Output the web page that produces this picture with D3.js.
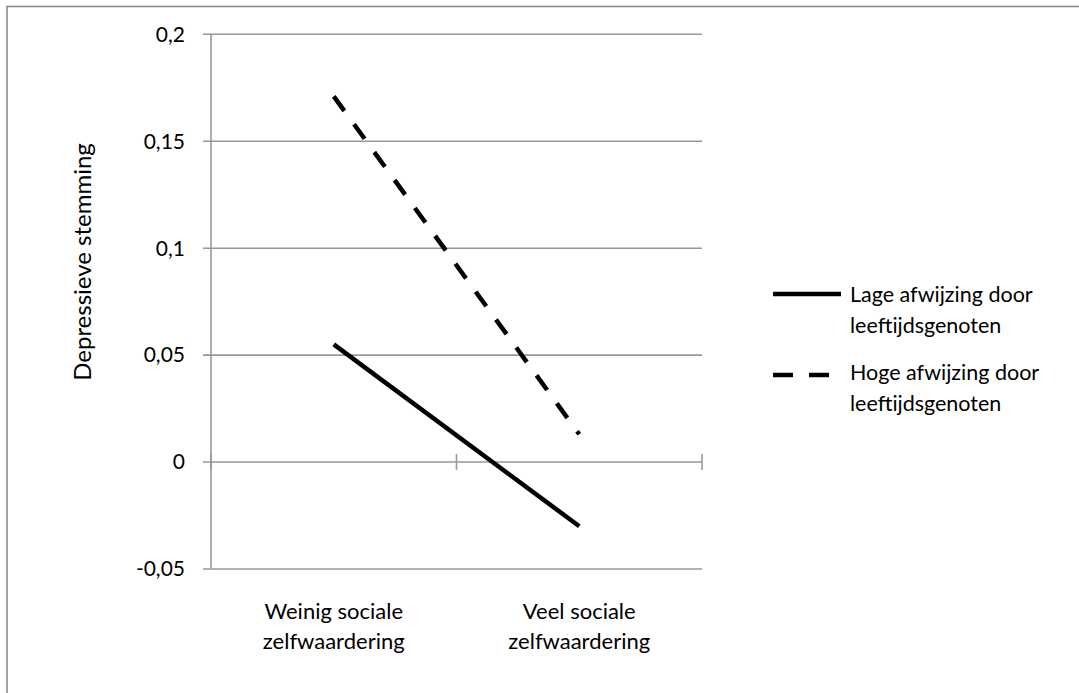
<!DOCTYPE html>
<html>
<head>
<meta charset="utf-8">
<script src="https://d3js.org/d3.v7.min.js"></script>
<style>
body{margin:0;background:#fff;}
text{font-family:Lato,"Open Sans",sans-serif;fill:#000;}
</style>
</head>
<body>
<svg id="chart"></svg>
<script>

// data
var categories = ["Weinig sociale\nzelfwaardering","Veel sociale\nzelfwaardering"]
var lageAfwijzing = [0.055,-0.030]
var hogeAfwijzing = [0.171,0.013]
var seriesNames = ["Lage afwijzing door\nleeftijdsgenoten","Hoge afwijzing door\nleeftijdsgenoten"]
var yTicks = [-0.05,0,0.05,0.1,0.15,0.2]
var yTickLabels = ["-0,05","0","0,05","0,1","0,15","0,2"]
var yTitle = "Depressieve stemming"

var screen = {width:1079,height:693}
var margins = {left:211,right:377,top:34.3,bottom:124}

var initGraph = function()
{
    var svg = d3.select("#chart")
        .attr("width",screen.width)
        .attr("height",screen.height)

    // outer frame, runs off the right and bottom edge
    svg.append("rect")
        .attr("x",7).attr("y",6.5)
        .attr("width",1100).attr("height",720)
        .attr("fill","none")
        .attr("stroke","#8a8a8a")
        .attr("stroke-width",1.6)

    var xScale = d3.scaleBand()
        .domain(categories)
        .range([margins.left,screen.width-margins.right])

    var yScale = d3.scaleLinear()
        .domain([-0.05,0.2])
        .range([screen.height-margins.bottom,margins.top])

    drawAxis(svg,xScale,yScale)
    drawPlot(svg,xScale,yScale)
    drawLegend(svg)
}

var drawAxis = function(svg,xScale,yScale)
{
    var x0 = xScale.range()[0], x1 = xScale.range()[1]

    // gridlines + outside ticks
    svg.append("g")
        .attr("class","grid")
        .selectAll("line")
        .data(yTicks)
        .enter()
        .append("line")
        .attr("x1",x0-8)
        .attr("x2",x1)
        .attr("y1",function(d){return yScale(d)})
        .attr("y2",function(d){return yScale(d)})
        .attr("stroke","#989898")
        .attr("stroke-width",1.6)

    // y axis line
    svg.append("line")
        .attr("x1",x0).attr("x2",x0)
        .attr("y1",yScale(-0.05)).attr("y2",yScale(0.2))
        .attr("stroke","#989898")
        .attr("stroke-width",1.6)

    // cross ticks on the x axis (at y = 0)
    var bounds = [x0,x0+xScale.bandwidth(),x1]
    svg.append("g")
        .selectAll("line")
        .data(bounds)
        .enter()
        .append("line")
        .attr("x1",function(d){return d})
        .attr("x2",function(d){return d})
        .attr("y1",yScale(0)-8)
        .attr("y2",yScale(0)+8)
        .attr("stroke","#989898")
        .attr("stroke-width",1.6)

    // y tick labels
    svg.append("g")
        .selectAll("text")
        .data(yTicks)
        .enter()
        .append("text")
        .attr("x",x0-26)
        .attr("y",function(d){return yScale(d)})
        .attr("dy","0.35em")
        .attr("text-anchor","end")
        .style("font-size","21px")
        .text(function(d,i){return yTickLabels[i]})

    // category labels
    var cat = svg.append("g")
        .selectAll("text")
        .data(categories)
        .enter()
        .append("text")
        .attr("text-anchor","middle")
        .style("font-size","22px")
    cat.selectAll("tspan")
        .data(function(d){return d.split("\n").map(function(s){return {s:s,c:d}})})
        .enter()
        .append("tspan")
        .attr("x",function(d){return xScale(d.c)+xScale.bandwidth()/2})
        .attr("y",function(d,i){return 619+i*30})
        .text(function(d){return d.s})

    // y title
    svg.append("text")
        .attr("transform","translate(91,262) rotate(-90)")
        .attr("text-anchor","middle")
        .style("font-size","24px")
        .text(yTitle)
}

var drawPlot = function(svg,xScale,yScale)
{
    var line = d3.line()
        .x(function(d,i){return xScale(categories[i])+xScale.bandwidth()/2})
        .y(function(d){return yScale(d)})

    svg.append("path")
        .datum(lageAfwijzing)
        .attr("d",line)
        .attr("fill","none")
        .attr("stroke","#000")
        .attr("stroke-width",4.5)

    svg.append("path")
        .datum(hogeAfwijzing)
        .attr("d",line)
        .attr("fill","none")
        .attr("stroke","#000")
        .attr("stroke-width",4.5)
        .attr("stroke-dasharray","18,16.5")
}

var drawLegend = function(svg)
{
    var items = [
        {name:seriesNames[0],dash:null,ly:294,ty:302},
        {name:seriesNames[1],dash:"20,16",ly:375,ty:380}
    ]
    var g = svg.append("g").attr("class","legend")
    items.forEach(function(it)
    {
        g.append("line")
            .attr("x1",773).attr("x2",841)
            .attr("y1",it.ly).attr("y2",it.ly)
            .attr("stroke","#000")
            .attr("stroke-width",4.5)
            .attr("stroke-dasharray",it.dash)
        var t = g.append("text").style("font-size","21.5px")
        it.name.split("\n").forEach(function(s,i)
        {
            t.append("tspan")
                .attr("x",850)
                .attr("y",it.ty+i*31)
                .text(s)
        })
    })
}

initGraph()
</script>
</body>
</html>
